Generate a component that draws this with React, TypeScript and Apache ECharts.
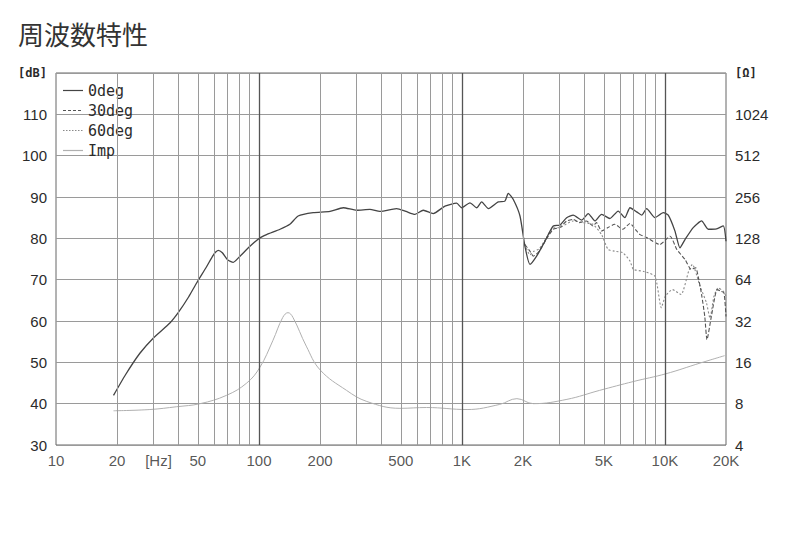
import React, { useEffect, useRef } from 'react';
import * as echarts from 'echarts';

const COLORS = {
  TEXT: '#2b2b2b',
  GRID: '#9a9a9a',
  GRID_MAJOR: '#555',
  DEG0: '#444',
  DEG30: '#555',
  DEG60: '#8a8a8a',
  IMP: '#b0b0b0',
};

// [Hz, dB]
const deg0: [number, number][] = [
  [19.2, 42.0], [22, 47], [25.9, 52.2], [30.2, 55.9], [36.4, 59.5], [40, 62.0],
  [45, 65.8], [49.3, 69.2], [55, 73], [60, 76.2], [63, 77.1], [66, 76.5],
  [70, 74.8], [74.7, 74.2], [80, 75.5], [90, 78], [101, 80.1], [109, 80.9],
  [127, 82.2], [142, 83.4], [156, 85.4], [185, 86.2], [224, 86.5], [260, 87.4],
  [303, 86.8], [352, 87.0], [394, 86.5], [409, 86.6], [477, 87.2], [530, 86.5],
  [587, 85.8], [645, 86.8], [722, 86.0], [825, 87.8], [942, 88.5], [997, 87.4],
  [1095, 88.6], [1182, 87.4], [1250, 88.8], [1351, 87.2], [1510, 88.8], [1628, 89.0],
  [1691, 90.9], [1791, 89.4], [1932, 85.4], [2043, 78.1], [2163, 73.7], [2333, 75.7],
  [2563, 79.3], [2818, 83.0], [3040, 83.2], [3280, 85.0], [3535, 85.6], [3890, 84.4],
  [4190, 86.0], [4520, 84.2], [4875, 85.8], [5355, 84.8], [5885, 86.6], [6350, 85.0],
  [6730, 87.4], [7255, 86.4], [7690, 85.6], [8130, 87.2], [8940, 85.0], [9820, 86.2],
  [10390, 85.6], [11200, 81.8], [11860, 77.7], [12560, 79.7], [13790, 82.6], [15160, 84.2],
  [16350, 82.2], [17970, 82.3], [19390, 83.0], [20000, 79.3],
];

const deg30: [number, number][] = [
  [2043, 78.5], [2163, 76.9], [2250, 75.7], [2406, 76.9], [2598, 79.7], [2818, 82.2],
  [3040, 82.6], [3280, 84.2], [3535, 84.6], [3800, 83.8], [4100, 84.2], [4420, 83.0],
  [4600, 83.8], [4875, 81.8], [5250, 82.6], [5650, 83.4], [6210, 82.2], [6730, 83.6],
  [7255, 81.8], [7540, 80.9], [8130, 80.2], [9430, 78.5], [10600, 80.5], [11450, 77.3],
  [12560, 74.9], [13470, 72.5], [14180, 72.9], [14580, 70.8], [15160, 66.4], [15720, 61.1],
  [16120, 55.5], [16940, 61.1], [18100, 67.6], [18880, 67.2], [19550, 66.8], [20000, 61.1],
];

const deg60: [number, number][] = [
  [2043, 78.5], [2163, 76.0], [2250, 76.8], [2406, 77.5], [2598, 80.0], [2818, 82.5],
  [3040, 82.6], [3535, 84.2], [3950, 83.8], [4420, 83.4], [4875, 80.9], [5250, 77.3],
  [5650, 76.9], [6210, 76.5], [6730, 74.5], [7000, 72.5], [7870, 72.0], [8940, 70.8],
  [9600, 63.2], [10050, 66.0], [10900, 67.6], [12000, 66.4], [13090, 72.0], [13650, 73.7],
  [14900, 68.4], [16020, 64.4], [16670, 60.7], [17450, 66.0], [18290, 68.0], [19390, 67.2],
  [20000, 66.0],
];

// [Hz, Ω]
const imp: [number, number][] = [
  [19.2, 7.1], [29, 7.25], [39.3, 7.6], [51.3, 8.0], [69.2, 9.2], [87, 11.3],
  [101, 14.7], [117, 23], [131, 34], [139, 36.8], [147, 34], [171, 21],
  [200, 14.1], [270, 10], [340, 8.3], [495, 7.4], [670, 7.5], [1060, 7.25],
  [1535, 7.9], [1865, 8.7], [2250, 8.0], [3290, 8.6], [4770, 10], [7000, 11.6],
  [10100, 13.2], [14900, 15.8], [19700, 17.9],
];

const xTicks = [10, 20, 32, 50, 100, 200, 500, 1000, 2000, 5000, 10000, 20000];
const xTickLabels = ['10', '20', '[Hz]', '50', '100', '200', '500', '1K', '2K', '5K', '10K', '20K'];

const minorFreqs = [
  20, 30, 40, 50, 60, 70, 80, 90,
  200, 300, 400, 500, 600, 700, 800, 900,
  2000, 3000, 4000, 5000, 6000, 7000, 8000, 9000,
];
const majorFreqs = [100, 1000, 10000];

const LABEL_FONT = "'Liberation Sans', Arial, sans-serif";
const MONO_FONT = "'DejaVu Sans Mono', monospace";

// legend line samples (thin filled shapes so they keep their look)
const ICON_SOLID = 'path://M0,0h20v1.2h-20z';
const ICON_DASH = 'path://M0,0h3v1.2h-3z M5,0h3v1.2h-3z M10,0h3v1.2h-3z M15,0h3v1.2h-3z M20,0h0.01v1.2h-0.01z';
const ICON_DOT = 'path://M0,0h1.5v1.2h-1.5z M3,0h1.5v1.2h-1.5z M6,0h1.5v1.2h-1.5z M9,0h1.5v1.2h-1.5z M12,0h1.5v1.2h-1.5z M15,0h1.5v1.2h-1.5z M18,0h1.5v1.2h-1.5z M20,0h0.01v1.2h-0.01z';

const App: React.FC = () => {
  const divEL = useRef(null);

  useEffect(() => {
    const instance = echarts.init(divEL.current as any, null, { renderer: 'svg' });

    const option: any = {
      animation: false,
      backgroundColor: '#fff',
      title: {
        text: '周波数特性',
        left: 13,
        top: 15,
        textStyle: {
          fontSize: 26,
          fontWeight: 'normal',
          color: '#333',
          fontFamily: "'Noto Sans CJK JP', sans-serif",
        },
      },
      legend: {
        data: [
          { name: '0deg', icon: ICON_SOLID },
          { name: '30deg', icon: ICON_DASH },
          { name: '60deg', icon: ICON_DOT },
          { name: 'Imp', icon: ICON_SOLID },
        ],
        orient: 'vertical',
        left: 58,
        top: 78,
        itemWidth: 20,
        itemHeight: 14,
        itemGap: 5,
        symbolKeepAspect: true,
        textStyle: {
          fontFamily: MONO_FONT,
          fontSize: 15,
          color: COLORS.TEXT,
        },
      },
      grid: {
        left: 56,
        right: 60,
        top: 73,
        bottom: 89,
        show: true,
        borderColor: '#666',
        borderWidth: 1,
      },
      xAxis: {
        type: 'log',
        logBase: 10,
        min: 10,
        max: 20000,
        axisLine: { show: false },
        axisTick: { show: false },
        axisLabel: { show: false },
        splitLine: { show: false },
      },
      yAxis: [
        {
          type: 'value',
          min: 30,
          max: 120,
          interval: 10,
          position: 'left',
          axisLine: { show: false },
          axisTick: { show: false },
          axisLabel: {
            color: COLORS.TEXT,
            fontSize: 15,
            fontFamily: LABEL_FONT,
            margin: 9,
            formatter: (v: number) => (v === 120 ? '{u|[dB]}' : String(v)),
            rich: { u: { fontFamily: MONO_FONT, fontSize: 12, fontWeight: 'bold', color: COLORS.TEXT } },
          },
          splitLine: { lineStyle: { color: COLORS.GRID, width: 1 } },
        },
        {
          type: 'log',
          logBase: 2,
          min: 4,
          max: 2048,
          position: 'right',
          axisLine: { show: false },
          axisTick: { show: false },
          axisLabel: {
            color: COLORS.TEXT,
            fontSize: 15,
            fontFamily: LABEL_FONT,
            margin: 9,
            formatter: (v: number) => (Math.round(v) === 2048 ? '{u|[Ω]}' : String(Math.round(v))),
            rich: { u: { fontFamily: MONO_FONT, fontSize: 12, fontWeight: 'bold', color: COLORS.TEXT } },
          },
          splitLine: { show: false },
        },
      ],
      series: [
        {
          name: 'ticks',
          type: 'scatter',
          symbolSize: 0,
          silent: true,
          clip: false,
          data: xTicks.map((f) => [f, 30]),
          label: {
            show: true,
            position: 'bottom',
            distance: 8,
            color: COLORS.TEXT,
            fontSize: 15,
            fontFamily: LABEL_FONT,
            formatter: (p: any) => xTickLabels[p.dataIndex],
          },
          markLine: {
            silent: true,
            symbol: ['none', 'none'],
            label: { show: false },
            lineStyle: { color: COLORS.GRID, width: 1, type: 'solid' },
            data: [
              ...minorFreqs.map((f) => ({ xAxis: f })),
              ...majorFreqs.map((f) => ({
                xAxis: f,
                lineStyle: { color: COLORS.GRID_MAJOR, width: 1.3, type: 'solid' },
              })),
            ],
          },
        },
        {
          name: 'Imp',
          type: 'line',
          yAxisIndex: 1,
          symbol: 'none',
          smooth: 0.4,
          data: imp,
          lineStyle: { color: COLORS.IMP, width: 1 },
          itemStyle: { color: COLORS.IMP },
        },
        {
          name: '60deg',
          type: 'line',
          symbol: 'none',
          smooth: 0.2,
          data: deg60,
          lineStyle: { color: COLORS.DEG60, width: 1.1, type: [2, 2] },
          itemStyle: { color: COLORS.DEG60 },
        },
        {
          name: '30deg',
          type: 'line',
          symbol: 'none',
          smooth: 0.2,
          data: deg30,
          lineStyle: { color: COLORS.DEG30, width: 1.1, type: [4, 2] },
          itemStyle: { color: COLORS.DEG30 },
        },
        {
          name: '0deg',
          type: 'line',
          symbol: 'none',
          smooth: 0.2,
          data: deg0,
          lineStyle: { color: COLORS.DEG0, width: 1.3 },
          itemStyle: { color: COLORS.DEG0 },
        },
      ],
    };

    instance.setOption(option);

    return () => {
      instance.dispose();
    };
  }, []);

  return (
    <div
      ref={divEL}
      style={{ position: 'fixed', left: 0, top: 0, width: 786, height: 534, background: '#fff' }}
    ></div>
  );
};

export default App;
